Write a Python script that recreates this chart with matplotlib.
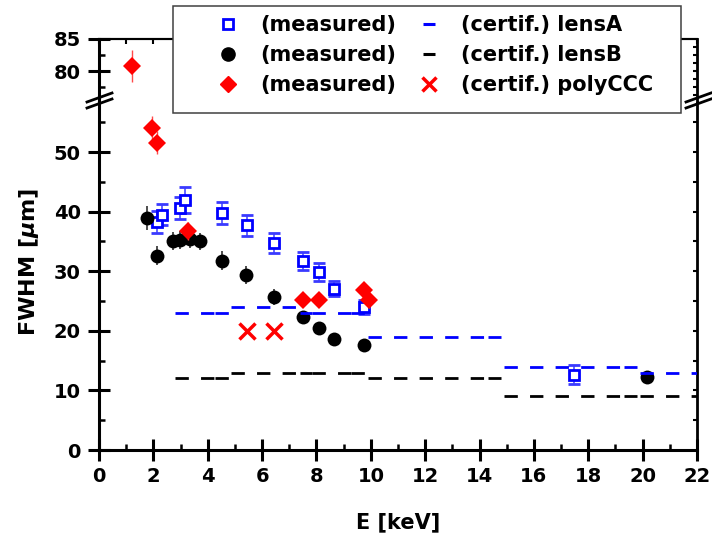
import numpy as np
import matplotlib
matplotlib.use("Agg")
import matplotlib.pyplot as plt
from matplotlib.lines import Line2D
from matplotlib.patches import Rectangle
from matplotlib.ticker import MultipleLocator

plt.rcParams['font.family'] = 'DejaVu Sans'
plt.rcParams['font.weight'] = 'bold'
plt.rcParams['lines.scale_dashes'] = False

# measured FWHM, lens A (open blue squares)
lensA_E = [2.14, 2.33, 2.98, 3.18, 4.53, 5.43, 6.44, 7.50, 8.08, 8.66, 9.74, 17.47]
lensA_fwhm = [38.3, 39.5, 40.6, 42.0, 39.8, 37.7, 34.7, 31.7, 29.8, 27.1, 24.0, 12.6]
lensA_err = [1.8, 1.8, 1.8, 2.2, 1.9, 1.8, 1.7, 1.5, 1.5, 1.3, 1.2, 1.6]

# measured FWHM, lens B (black circles)
lensB_E = [1.75, 2.13, 2.71, 2.98, 3.35, 3.72, 4.53, 5.42, 6.43, 7.50, 8.08, 8.66, 9.74, 20.17]
lensB_fwhm = [39.0, 32.6, 35.1, 35.2, 35.4, 35.0, 31.8, 29.4, 25.7, 22.3, 20.5, 18.6, 17.7, 12.3]
lensB_err = [2.0, 1.6, 1.5, 1.5, 1.5, 1.5, 1.6, 1.5, 1.3, 1.0, 1.0, 0.8, 0.8, 0.8]

# measured FWHM, polyCCC (red diamonds)
poly_E = [1.20, 1.94, 2.15, 3.29, 7.50, 8.08, 9.74, 9.93]
poly_fwhm = [80.8, 54.1, 51.6, 36.7, 25.2, 25.2, 26.8, 25.2]
poly_err = [2.5, 2.0, 2.0, 1.5, 1.0, 1.0, 1.3, 1.3]

# certified values
poly_cert_E = [5.43, 6.43]
poly_cert_fwhm = [20, 20]
cert_ranges = [(2.80, 4.27), (4.27, 4.80), (4.85, 7.38), (7.40, 7.84), (7.84, 9.27),
               (9.27, 9.79), (9.90, 14.31), (14.31, 14.79), (14.90, 19.32),
               (19.32, 19.79), (19.90, 22.0)]
lensA_cert = [23, 23, 24, 23, 23, 23, 19, 19, 14, 14, 13]
lensB_cert = [12, 12, 13, 13, 13, 13, 12, 12, 9, 9, 9]

x_ticks = list(range(0, 23, 2))
low_yticks = [0, 10, 20, 30, 40, 50]
low_yminor = [5, 15, 25, 35, 45, 55]
up_yticks = [80, 85]
up_yminor = [77.5, 82.5]
low_right_ticks = [5, 10, 15, 20, 25, 30, 35, 40, 45, 50, 55]
up_right_ticks = [76.25, 77.5, 78.75, 80, 81.25, 82.5, 83.75]

W, H = 712, 540
fig = plt.figure(figsize=(W / 100, H / 100), dpi=100)


def fx(px):
    return px / W


def fy(py):
    return 1 - py / H


left, right = 99, 697
ybot, ybrk, ytop = 450, 102, 39
lower = fig.add_axes([fx(left), fy(ybot), fx(right) - fx(left), fy(ybrk) - fy(ybot)])
upper = fig.add_axes([fx(left), fy(ybrk), fx(right) - fx(left), fy(ytop) - fy(ybrk)], sharex=lower)


def draw(ax):
    # certified step values (each range drawn on its own, like the original)
    for (x0, x1), va, vb in zip(cert_ranges, lensA_cert, lensB_cert):
        ax.plot([x0, x1], [vb, vb], color='black', lw=2.0, dashes=(9.6, 8.8), zorder=6)
        ax.plot([x0, x1], [va, va], color='blue', lw=2.0, dashes=(9.6, 8.8), zorder=6)
    ax.errorbar(lensA_E, lensA_fwhm, yerr=lensA_err, fmt='s', ms=7.2, mfc='white', mec='blue',
                mew=2.0, ecolor='#3a3aff', elinewidth=1.1, capsize=4.3, capthick=1.1, zorder=3)
    ax.errorbar(lensB_E, lensB_fwhm, yerr=lensB_err, fmt='o', ms=10, color='black', mew=0,
                ecolor='#303030', elinewidth=1.2, capsize=4.5, capthick=1.2, zorder=3)
    ax.errorbar(poly_E, poly_fwhm, yerr=poly_err, fmt='D', ms=8.8, color='red', mew=0,
                ecolor='#ff4a4a', elinewidth=1.0, capsize=4.3, capthick=1.0, zorder=4)
    ax.plot(poly_cert_E, poly_cert_fwhm, 'x', color='red', ms=11, mew=2.5, zorder=4)


draw(lower)
draw(upper)

lower.set_xlim(0, 22)
lower.set_ylim(0, 58.4)
upper.set_ylim(75.2, 85)

lower.set_xticks(x_ticks)
lower.xaxis.set_minor_locator(MultipleLocator(1))
lower.set_yticks(low_yticks)
lower.set_yticks(low_yminor, minor=True)
upper.set_yticks(up_yticks)
upper.set_yticks(up_yminor, minor=True)

for ax in (lower, upper):
    ax.tick_params(axis='y', which='major', direction='inout', length=16.5, width=2.2,
                   labelsize=14, pad=5)
    ax.tick_params(axis='y', which='minor', direction='in', length=4.3, width=1.8)
    ax.spines['left'].set_linewidth(2.2)
    ax.spines['right'].set_visible(False)
lower.tick_params(axis='x', which='major', direction='inout', length=16, width=2.2,
                  labelsize=14, pad=4.5)
lower.tick_params(axis='x', which='minor', direction='in', length=4.3, width=1.8)
upper.tick_params(axis='x', which='both', bottom=False, labelbottom=False)
lower.spines['bottom'].set_linewidth(2.2)
lower.spines['top'].set_visible(False)
upper.spines['bottom'].set_visible(False)
upper.spines['top'].set_linewidth(1.5)

# right-hand and top ticks
for ax, ticks in ((lower, low_right_ticks), (upper, up_right_ticks)):
    sec = ax.secondary_yaxis('right')
    sec.set_ticks(ticks)
    sec.tick_params(direction='in', length=3, width=1.5, labelright=False)
    sec.spines['right'].set_linewidth(2.0)
top = upper.secondary_xaxis('top')
top.set_ticks(list(range(0, 23)))
top.tick_params(direction='in', length=3.5, width=1.5, labeltop=False)
top.spines['top'].set_linewidth(1.5)

# axis break marks
for xa, xb in ((87, 112), (686, 711)):
    for ya, yb in ((108, 99), (102, 93)):
        fig.add_artist(Line2D([fx(xa), fx(xb)], [fy(ya), fy(yb)], transform=fig.transFigure,
                              color='black', lw=2.0, zorder=6))

fig.text(fx(398), fy(522), 'E [keV]', ha='center', va='center', fontsize=15, fontweight='bold')
fig.text(fx(29), fy(262), r'FWHM [$\mu$m]', rotation=90, ha='center', va='center',
         fontsize=16, fontweight='bold')

# legend box
fig.add_artist(Rectangle((fx(173), fy(113)), fx(681) - fx(173), fy(6) - fy(113),
                         transform=fig.transFigure, facecolor='white', edgecolor='#404040',
                         lw=1.1, zorder=4))
handles = [
    Line2D([], [], ls='none', marker='s', ms=6.5, mfc='white', mec='blue', mew=2.0),
    Line2D([], [], ls='none', marker='o', ms=9.5, color='black'),
    Line2D([], [], ls='none', marker='D', ms=8.5, color='red'),
    Line2D([], [], ls='none', marker='_', ms=9, mew=2.2, color='blue'),
    Line2D([], [], ls='none', marker='_', ms=9, mew=2.2, color='black'),
    Line2D([], [], ls='none', marker='x', ms=10, mew=2.5, color='red'),
]
labels = ['(measured)', '(measured)', '(measured)',
          '(certif.) lensA', '(certif.) lensB', '(certif.) polyCCC']
fig.legend(handles, labels, ncol=2, loc='upper left', bbox_to_anchor=(fx(211.3), fy(15)),
           frameon=False, fontsize=15, handlelength=1.6, handletextpad=0.73,
           columnspacing=0.78, labelspacing=0.48, borderpad=0, borderaxespad=0)

fig.savefig('out.png', dpi=100)
